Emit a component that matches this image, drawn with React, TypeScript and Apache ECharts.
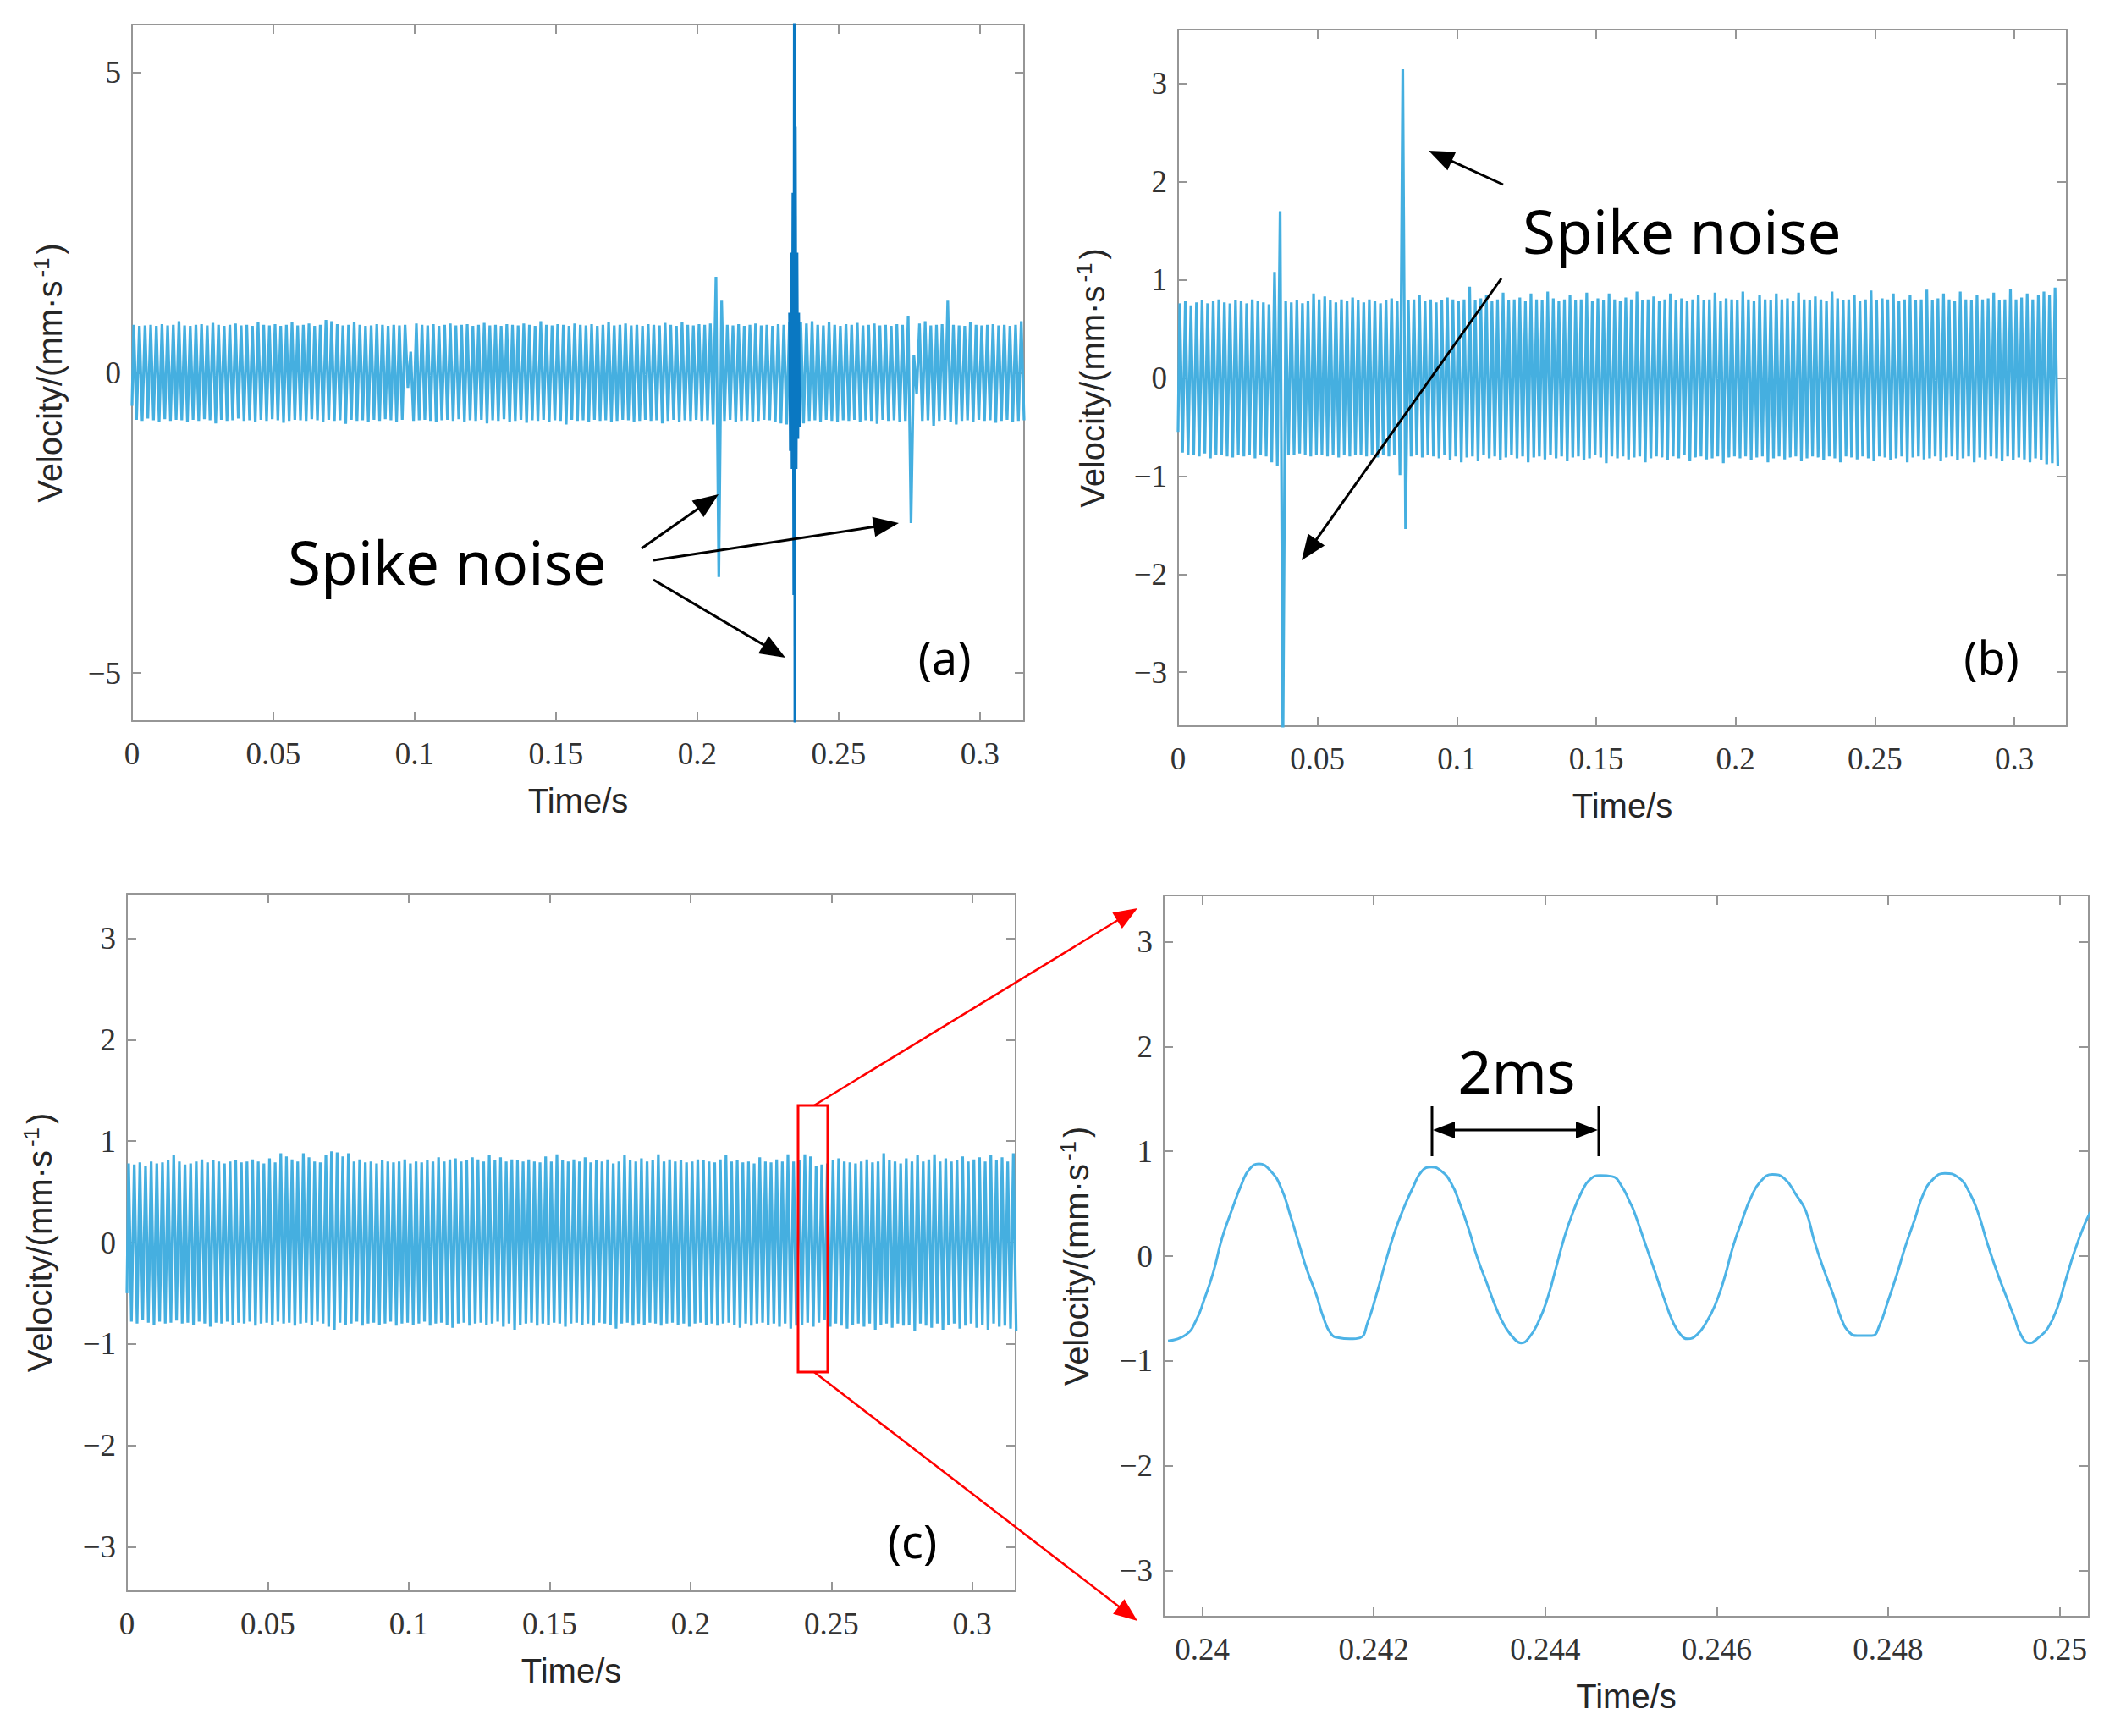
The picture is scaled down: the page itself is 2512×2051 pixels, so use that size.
import React, { useEffect, useRef } from "react";
import * as echarts from "echarts";

const W = 2512;
const H = 2051;

// ---------- data ----------
// dense records: one peak and one trough per 2 ms cycle
const SAMPLE_HALF = 0.001; // s between a peak and the next trough
const FIRST_PEAK_T = 0.0006; // s

const A_START = -0.55;
const A_PEAK = [
  0.80, 0.78, 0.79, 0.80, 0.78, 0.81, 0.79, 0.80, 0.86, 0.79,
  0.78, 0.80, 0.81, 0.79, 0.83, 0.80, 0.78, 0.80, 0.82, 0.79,
  0.80, 0.78, 0.85, 0.80, 0.79, 0.81, 0.78, 0.80, 0.84, 0.79,
  0.80, 0.82, 0.78, 0.80, 0.88, 0.86, 0.81, 0.79, 0.80, 0.84,
  0.80, 0.78, 0.79, 0.81, 0.80, 0.78, 0.80, 0.79, 0.80, 0.35,
  0.82, 0.80, 0.79, 0.81, 0.78, 0.80, 0.82, 0.79, 0.80, 0.81,
  0.78, 0.80, 0.83, 0.79, 0.80, 0.78, 0.81, 0.80, 0.79, 0.82,
  0.80, 0.78, 0.86, 0.80, 0.79, 0.81, 0.80, 0.78, 0.82, 0.80,
  0.79, 0.81, 0.78, 0.80, 0.84, 0.79, 0.80, 0.82, 0.79, 0.80,
  0.78, 0.81, 0.80, 0.79, 0.83, 0.80, 0.78, 0.85, 0.80, 0.79,
  0.81, 0.80, 0.82, 1.60, 1.20, 0.80, 0.79, 0.81, 0.78, 0.80,
  0.82, 0.79, 0.80, 0.78, 0.81, 0.80, 0.84, 0.82, 0.85, 0.82,
  0.86, 0.80, 0.79, 0.84, 0.80, 0.78, 0.81, 0.80, 0.83, 0.79,
  0.80, 0.82, 0.79, 0.80, 0.78, 0.81, 0.80, 0.95, 0.30, 0.82,
  0.86, 0.79, 0.80, 0.81, 1.20, 0.80, 0.79, 0.78, 0.85, 0.80,
  0.79, 0.80, 0.81, 0.79, 0.80, 0.78, 0.80, 0.86,
];
const A_TROUGH = [
  -0.78, -0.80, -0.76, -0.79, -0.81, -0.77, -0.80, -0.78, -0.79, -0.82,
  -0.78, -0.80, -0.77, -0.79, -0.84, -0.78, -0.80, -0.79, -0.76, -0.80,
  -0.79, -0.81, -0.78, -0.80, -0.77, -0.79, -0.83, -0.80, -0.78, -0.79,
  -0.80, -0.77, -0.79, -0.81, -0.78, -0.80, -0.79, -0.85, -0.78, -0.80,
  -0.79, -0.81, -0.78, -0.80, -0.77, -0.79, -0.82, -0.78, -0.25, -0.80,
  -0.79, -0.78, -0.80, -0.82, -0.79, -0.78, -0.80, -0.77, -0.81, -0.79,
  -0.80, -0.78, -0.84, -0.79, -0.80, -0.77, -0.81, -0.80, -0.78, -0.83,
  -0.79, -0.80, -0.78, -0.81, -0.79, -0.80, -0.86, -0.78, -0.80, -0.79,
  -0.81, -0.78, -0.80, -0.79, -0.82, -0.80, -0.78, -0.79, -0.81, -0.80,
  -0.78, -0.80, -0.79, -0.84, -0.80, -0.78, -0.81, -0.79, -0.80, -0.78,
  -0.80, -0.79, -0.86, -3.40, -0.80, -0.78, -0.81, -0.80, -0.79, -0.82,
  -0.80, -0.78, -0.79, -0.81, -0.84, -0.86, -0.88, -0.90, -0.84, -0.80,
  -0.79, -0.81, -0.78, -0.80, -0.82, -0.79, -0.80, -0.78, -0.81, -0.79,
  -0.80, -0.85, -0.78, -0.80, -0.79, -0.81, -0.80, -2.50, -0.35, -0.80,
  -0.79, -0.88, -0.80, -0.78, -0.82, -0.86, -0.80, -0.79, -0.81, -0.78,
  -0.80, -0.79, -0.83, -0.80, -0.78, -0.81, -0.80, -0.79,
];
// the large burst around 0.234 s in record (a)
const A_BURST_T = [
  0.2326, 0.2329, 0.2332, 0.2335, 0.2338, 0.2341, 0.2343,
  0.2345, 0.2347, 0.235, 0.2353, 0.2356, 0.2359, 0.2362,
];
const A_BURST_V = [
  1.0, -1.3, 2.0, -1.6, 3.0, -3.7, 6.5,
  -6.5, 4.1, -1.6, 2.0, -1.1, 1.0, -0.9,
];

const B_START = -0.55;
const B_PEAK = [
  0.76, 0.78, 0.74, 0.77, 0.79, 0.76, 0.78, 0.80, 0.77, 0.76,
  0.79, 0.78, 0.76, 0.80, 0.78, 0.77, 0.75, 1.08, 1.70, 0.78,
  0.77, 0.79, 0.76, 0.78, 0.86, 0.80, 0.83, 0.79, 0.77, 0.80,
  0.78, 0.82, 0.79, 0.77, 0.80, 0.78, 0.76, 0.79, 0.81, 0.78,
  3.15, 0.79, 0.80, 0.84, 0.78, 0.80, 0.77, 0.79, 0.82, 0.80,
  0.78, 0.80, 0.93, 0.79, 0.81, 0.85, 0.78, 0.80, 0.87, 0.79,
  0.80, 0.82, 0.78, 0.86, 0.80, 0.79, 0.88, 0.81, 0.78, 0.80,
  0.84, 0.79, 0.80, 0.87, 0.78, 0.81, 0.79, 0.86, 0.80, 0.78,
  0.82, 0.80, 0.88, 0.79, 0.80, 0.83, 0.78, 0.80, 0.86, 0.79,
  0.81, 0.78, 0.80, 0.85, 0.79, 0.80, 0.87, 0.78, 0.81, 0.80,
  0.79, 0.88, 0.80, 0.78, 0.84, 0.80, 0.79, 0.86, 0.80, 0.81,
  0.78, 0.87, 0.80, 0.79, 0.83, 0.80, 0.78, 0.88, 0.81, 0.79,
  0.80, 0.85, 0.78, 0.80, 0.89, 0.79, 0.81, 0.80, 0.86, 0.78,
  0.80, 0.84, 0.79, 0.80, 0.90, 0.79, 0.81, 0.86, 0.80, 0.78,
  0.88, 0.80, 0.79, 0.85, 0.80, 0.81, 0.87, 0.79, 0.80, 0.91,
  0.80, 0.82, 0.86, 0.80, 0.84, 0.88, 0.85, 0.92,
];
const B_TROUGH = [
  -0.76, -0.79, -0.78, -0.80, -0.77, -0.82, -0.79, -0.78, -0.80, -0.81,
  -0.78, -0.80, -0.79, -0.82, -0.78, -0.80, -0.86, -0.90, -3.80, -0.78,
  -0.79, -0.77, -0.78, -0.80, -0.79, -0.78, -0.80, -0.79, -0.81, -0.78,
  -0.80, -0.79, -0.78, -0.80, -0.79, -0.81, -0.78, -0.80, -0.79, -0.99,
  -1.54, -0.80, -0.79, -0.81, -0.78, -0.80, -0.82, -0.79, -0.84, -0.80,
  -0.86, -0.81, -0.80, -0.85, -0.79, -0.82, -0.80, -0.84, -0.81, -0.79,
  -0.82, -0.80, -0.86, -0.81, -0.80, -0.83, -0.79, -0.82, -0.80, -0.85,
  -0.81, -0.80, -0.84, -0.82, -0.79, -0.81, -0.87, -0.80, -0.82, -0.80,
  -0.83, -0.81, -0.80, -0.86, -0.82, -0.80, -0.81, -0.84, -0.80, -0.82,
  -0.79, -0.85, -0.81, -0.80, -0.83, -0.82, -0.80, -0.87, -0.81, -0.80,
  -0.82, -0.80, -0.84, -0.81, -0.80, -0.86, -0.82, -0.80, -0.83, -0.81,
  -0.80, -0.85, -0.82, -0.80, -0.81, -0.84, -0.80, -0.82, -0.86, -0.80,
  -0.81, -0.83, -0.80, -0.82, -0.85, -0.80, -0.81, -0.84, -0.82, -0.80,
  -0.86, -0.81, -0.80, -0.83, -0.82, -0.80, -0.85, -0.81, -0.80, -0.84,
  -0.82, -0.80, -0.86, -0.81, -0.83, -0.80, -0.82, -0.85, -0.80, -0.84,
  -0.81, -0.83, -0.86, -0.82, -0.84, -0.88, -0.87, -0.90,
];

const C_START = -0.5;
const C_PEAK = [
  0.78, 0.77, 0.79, 0.76, 0.80, 0.78, 0.79, 0.81, 0.86, 0.80,
  0.77, 0.78, 0.80, 0.82, 0.79, 0.81, 0.80, 0.78, 0.80, 0.81,
  0.79, 0.80, 0.82, 0.80, 0.78, 0.83, 0.79, 0.88, 0.85, 0.82,
  0.80, 0.88, 0.84, 0.80, 0.79, 0.86, 0.90, 0.89, 0.85, 0.88,
  0.80, 0.82, 0.79, 0.80, 0.78, 0.81, 0.80, 0.79, 0.80, 0.82,
  0.78, 0.80, 0.79, 0.81, 0.80, 0.84, 0.80, 0.82, 0.83, 0.80,
  0.81, 0.84, 0.82, 0.80, 0.86, 0.81, 0.84, 0.80, 0.82, 0.81,
  0.80, 0.82, 0.80, 0.79, 0.85, 0.80, 0.87, 0.81, 0.80, 0.82,
  0.80, 0.84, 0.79, 0.81, 0.80, 0.82, 0.78, 0.80, 0.86, 0.81,
  0.80, 0.83, 0.80, 0.81, 0.87, 0.80, 0.82, 0.80, 0.81, 0.79,
  0.80, 0.82, 0.81, 0.80, 0.79, 0.82, 0.86, 0.80, 0.81, 0.79,
  0.80, 0.78, 0.84, 0.80, 0.79, 0.82, 0.80, 0.87, 0.80, 0.81,
  0.87, 0.85, 0.76, 0.77, 0.78, 0.81, 0.83, 0.80, 0.79, 0.78,
  0.80, 0.82, 0.79, 0.80, 0.88, 0.81, 0.80, 0.78, 0.83, 0.80,
  0.86, 0.80, 0.82, 0.87, 0.80, 0.83, 0.80, 0.81, 0.85, 0.80,
  0.82, 0.84, 0.80, 0.86, 0.81, 0.84, 0.80, 0.88,
];
const C_TROUGH = [
  -0.78, -0.80, -0.76, -0.79, -0.81, -0.78, -0.80, -0.79, -0.77, -0.80,
  -0.79, -0.81, -0.78, -0.80, -0.83, -0.79, -0.80, -0.78, -0.81, -0.79,
  -0.80, -0.78, -0.82, -0.80, -0.79, -0.81, -0.78, -0.80, -0.79, -0.82,
  -0.80, -0.79, -0.81, -0.78, -0.80, -0.83, -0.86, -0.79, -0.81, -0.80,
  -0.78, -0.82, -0.80, -0.79, -0.81, -0.80, -0.78, -0.82, -0.80, -0.79,
  -0.81, -0.80, -0.78, -0.82, -0.80, -0.79, -0.81, -0.84, -0.80, -0.79,
  -0.82, -0.80, -0.79, -0.81, -0.80, -0.78, -0.83, -0.80, -0.86, -0.81,
  -0.80, -0.79, -0.82, -0.80, -0.81, -0.79, -0.80, -0.83, -0.80, -0.79,
  -0.81, -0.80, -0.82, -0.79, -0.80, -0.81, -0.85, -0.80, -0.79, -0.82,
  -0.80, -0.81, -0.79, -0.80, -0.82, -0.80, -0.79, -0.81, -0.80, -0.83,
  -0.80, -0.79, -0.81, -0.80, -0.82, -0.80, -0.79, -0.81, -0.84, -0.80,
  -0.82, -0.80, -0.79, -0.81, -0.80, -0.83, -0.80, -0.85, -0.82, -0.81,
  -0.79, -0.83, -0.79, -0.76, -0.83, -0.80, -0.82, -0.85, -0.81, -0.80,
  -0.83, -0.80, -0.86, -0.81, -0.80, -0.84, -0.80, -0.82, -0.81, -0.87,
  -0.80, -0.82, -0.84, -0.80, -0.86, -0.81, -0.80, -0.85, -0.82, -0.80,
  -0.84, -0.81, -0.86, -0.80, -0.83, -0.82, -0.85, -0.87,
];

// zoomed record (d)
const D_TIME = [
  0.2396, 0.23981, 0.23993, 0.24002, 0.24013, 0.24023, 0.24034, 0.24046, 0.24055, 0.24066,
  0.2408, 0.24092, 0.24103, 0.24113, 0.24122, 0.24133, 0.24141, 0.2415, 0.24159, 0.24172,
  0.24184, 0.24193, 0.24203, 0.24214, 0.24224, 0.24235, 0.24246, 0.24256, 0.24267, 0.24279,
  0.2429, 0.243, 0.24311, 0.24321, 0.24332, 0.24343, 0.24353, 0.24364, 0.24372, 0.24381,
  0.24392, 0.24402, 0.24413, 0.24422, 0.24432, 0.24443, 0.24452, 0.24464, 0.24478, 0.24489,
  0.24499, 0.24503, 0.24517, 0.24528, 0.24538, 0.24549, 0.24558, 0.24566, 0.24577, 0.24588,
  0.24598, 0.24609, 0.24619, 0.2463, 0.2464, 0.24651, 0.24665, 0.24679, 0.24693, 0.24704,
  0.24714, 0.24725, 0.24736, 0.24746, 0.24755, 0.24764, 0.24781, 0.2479, 0.24799, 0.2481,
  0.2482, 0.24831, 0.24841, 0.24852, 0.24866, 0.24882, 0.24894, 0.24905, 0.24915, 0.24926,
  0.24937, 0.24947, 0.24956, 0.24965, 0.24975, 0.24986, 0.24997, 0.25007, 0.25018, 0.25029,
  0.25036,
];
const D_VEL = [
  -0.81, -0.75, -0.61, -0.42, -0.15, 0.17, 0.43, 0.69, 0.83, 0.88,
  0.81, 0.65, 0.38, 0.11, -0.13, -0.37, -0.58, -0.74, -0.78, -0.79,
  -0.78, -0.63, -0.37, -0.05, 0.22, 0.46, 0.66, 0.81, 0.85, 0.81,
  0.7, 0.51, 0.25, -0.02, -0.26, -0.5, -0.67, -0.79, -0.83, -0.78,
  -0.63, -0.42, -0.1, 0.17, 0.41, 0.62, 0.73, 0.77, 0.76, 0.67,
  0.51, 0.44, 0.11, -0.15, -0.39, -0.63, -0.75, -0.79, -0.75, -0.63,
  -0.47, -0.21, 0.09, 0.35, 0.56, 0.71, 0.78, 0.74, 0.58, 0.43,
  0.14, -0.13, -0.37, -0.61, -0.73, -0.76, -0.76, -0.66, -0.45, -0.18,
  0.09, 0.35, 0.59, 0.73, 0.79, 0.75, 0.62, 0.41, 0.14, -0.13,
  -0.37, -0.58, -0.77, -0.83, -0.78, -0.69, -0.5, -0.23, 0.06, 0.3,
  0.42,
];

// axes
const X_RANGE_A = [0, 0.3156];
const X_RANGE_B = [0, 0.3188];
const X_RANGE_C = [0, 0.3154];
const X_RANGE_D = [0.23955, 0.25034];
const Y_RANGE_A = [-5.8, 5.8];
const Y_RANGE_B = [-3.55, 3.55];
const Y_RANGE_C = [-3.44, 3.44];
const Y_RANGE_D = [-3.44, 3.44];
const X_TICKS_FULL = [0, 0.05, 0.1, 0.15, 0.2, 0.25, 0.3];
const X_TICKS_ZOOM = [0.24, 0.242, 0.244, 0.246, 0.248, 0.25];
const Y_TICKS_A = [-5, 0, 5];
const Y_TICKS_3 = [-3, -2, -1, 0, 1, 2, 3];

// ---------- styles ----------
const AX = "#969696";
const LBL = "#333333";
const SERIF = "'Liberation Serif', 'DejaVu Serif', serif";
const SANS = "'Liberation Sans', Arial, sans-serif";
const NOTE = "'Noto Sans', 'Open Sans', sans-serif";
const DENSE = "#45AFE0";
const BURST = "#0A78C2";
const THIN = "#4DB3E6";

function zigzag(start: number, peaks: number[], troughs: number[]) {
  const pts: number[][] = [[0, start]];
  for (let k = 0; k < peaks.length; k++) {
    pts.push([FIRST_PEAK_T + 2 * k * SAMPLE_HALF, peaks[k]]);
    if (k < troughs.length) pts.push([FIRST_PEAK_T + (2 * k + 1) * SAMPLE_HALF, troughs[k]]);
  }
  return pts;
}

const fmt = (v: number) => (v < 0 ? "\u2212" + String(-v) : String(v));

const VEL_NAME = "{n|Velocity/(mm\u00b7s}{s|-1}{n|)}";

function xAxes(gi: number, range: number[], ticks: number[]) {
  const common = {
    type: "value",
    gridIndex: gi,
    min: range[0],
    max: range[1],
    splitLine: { show: false },
    axisLine: { show: true, onZero: false, lineStyle: { color: AX, width: 2 } },
    axisTick: { show: true, inside: true, length: 11, customValues: ticks, lineStyle: { color: AX, width: 2 } },
  };
  return [
    {
      ...common,
      position: "bottom",
      axisLabel: {
        show: true,
        customValues: ticks,
        formatter: fmt,
        margin: 20,
        fontFamily: SERIF,
        fontSize: 37,
        color: LBL,
      },
      name: "Time/s",
      nameLocation: "middle",
      nameGap: 74,
      nameTextStyle: { fontFamily: SANS, fontSize: 40, color: "#262626" },
    },
    { ...common, position: "top", axisLabel: { show: false } },
  ];
}

function yAxes(gi: number, range: number[], ticks: number[], gap: number) {
  const common = {
    type: "value",
    gridIndex: gi,
    min: range[0],
    max: range[1],
    splitLine: { show: false },
    axisLine: { show: true, onZero: false, lineStyle: { color: AX, width: 2 } },
    axisTick: { show: true, inside: true, length: 11, customValues: ticks, lineStyle: { color: AX, width: 2 } },
  };
  return [
    {
      ...common,
      position: "left",
      axisLabel: {
        show: true,
        customValues: ticks,
        formatter: fmt,
        margin: 13,
        fontFamily: SERIF,
        fontSize: 37,
        color: LBL,
      },
      name: VEL_NAME,
      nameLocation: "middle",
      nameGap: gap,
      nameTextStyle: {
        fontFamily: SANS,
        fontSize: 40,
        color: "#262626",
        rich: {
          n: { fontFamily: SANS, fontSize: 40, lineHeight: 46, color: "#262626" },
          s: {
            fontFamily: SANS,
            fontSize: 26,
            lineHeight: 26,
            color: "#262626",
            verticalAlign: "top",
            padding: [0, 4, 0, 4],
          },
        },
      },
    },
    { ...common, position: "right", axisLabel: { show: false } },
  ];
}

function arrow(x1: number, y1: number, x2: number, y2: number, color: string, lw: number, hl: number, hw: number) {
  const dx = x2 - x1;
  const dy = y2 - y1;
  const L = Math.hypot(dx, dy);
  const ux = dx / L;
  const uy = dy / L;
  const bx = x2 - ux * hl;
  const by = y2 - uy * hl;
  const px = -uy;
  const py = ux;
  return [
    { type: "line", z: 100, shape: { x1, y1, x2: bx + ux * 3, y2: by + uy * 3 }, style: { stroke: color, lineWidth: lw } },
    {
      type: "polygon",
      z: 100,
      shape: {
        points: [
          [x2, y2],
          [bx + (px * hw) / 2, by + (py * hw) / 2],
          [bx - (px * hw) / 2, by - (py * hw) / 2],
        ],
      },
      style: { fill: color },
    },
  ];
}

function label(text: string, x: number, y: number, size: number, align = "center") {
  return {
    type: "text",
    z: 100,
    x,
    y,
    style: { text, fontFamily: NOTE, fontSize: size, fill: "#000", align, verticalAlign: "middle" },
  };
}

export default function App() {
  const ref = useRef<HTMLDivElement>(null);
  useEffect(() => {
    if (!ref.current) return;
    const chart = echarts.init(ref.current, null, { renderer: "svg", width: W, height: H });
    const grids = [
      { left: 156, top: 29, width: 1054, height: 823 },
      { left: 1392, top: 35, width: 1050, height: 823 },
      { left: 150, top: 1056, width: 1050, height: 824 },
      { left: 1375, top: 1058, width: 1093, height: 852 },
    ];
    const lineSeries = (gi: number, data: number[][], color: string, width: number, smooth = false) => ({
      type: "line",
      xAxisIndex: gi * 2,
      yAxisIndex: gi * 2,
      data,
      symbol: "none",
      showSymbol: false,
      smooth,
      clip: true,
      silent: true,
      lineStyle: { color, width },
    });
    const dData = D_TIME.map((t, i) => [t, D_VEL[i]]);
    const burst = A_BURST_T.map((t, i) => [t, A_BURST_V[i]]);
    const graphic: any[] = [
      ...arrow(758, 648, 849, 584, "#000", 3, 30, 24),
      ...arrow(772, 662, 1062, 618, "#000", 3, 30, 24),
      ...arrow(772, 685, 928, 777, "#000", 3, 30, 24),
      ...arrow(1776, 218, 1688, 178, "#000", 3, 30, 24),
      ...arrow(1774, 329, 1538, 662, "#000", 3, 30, 24),
      {
        type: "rect",
        z: 100,
        shape: { x: 943, y: 1306, width: 35, height: 315 },
        style: { fill: "none", stroke: "#ff0000", lineWidth: 3 },
      },
      ...arrow(962, 1306, 1344, 1073, "#ff0000", 2.5, 28, 22),
      ...arrow(962, 1621, 1344, 1915, "#ff0000", 2.5, 28, 22),
      { type: "line", z: 100, shape: { x1: 1692, y1: 1307, x2: 1692, y2: 1366 }, style: { stroke: "#000", lineWidth: 3 } },
      { type: "line", z: 100, shape: { x1: 1889, y1: 1307, x2: 1889, y2: 1366 }, style: { stroke: "#000", lineWidth: 3 } },
      ...arrow(1790, 1335, 1693, 1335, "#000", 3, 26, 20),
      ...arrow(1790, 1335, 1888, 1335, "#000", 3, 26, 20),
      label("Spike noise", 340, 663, 71, "left"),
      label("Spike noise", 1799, 272, 71, "left"),
      label("(a)", 1116, 776, 54),
      label("(b)", 2353, 776, 54),
      label("(c)", 1078, 1820, 54),
      label("2ms", 1792, 1265, 70),
    ];
    chart.setOption({
      animation: false,
      backgroundColor: "#ffffff",
      grid: grids,
      xAxis: [
        ...xAxes(0, X_RANGE_A, X_TICKS_FULL),
        ...xAxes(1, X_RANGE_B, X_TICKS_FULL),
        ...xAxes(2, X_RANGE_C, X_TICKS_FULL),
        ...xAxes(3, X_RANGE_D, X_TICKS_ZOOM),
      ],
      yAxis: [
        ...yAxes(0, Y_RANGE_A, Y_TICKS_A, 74),
        ...yAxes(1, Y_RANGE_B, Y_TICKS_3, 78),
        ...yAxes(2, Y_RANGE_C, Y_TICKS_3, 80),
        ...yAxes(3, Y_RANGE_D, Y_TICKS_3, 80),
      ],
      series: [
        lineSeries(0, zigzag(A_START, A_PEAK, A_TROUGH), DENSE, 3.2),
        lineSeries(0, burst, BURST, 3),
        lineSeries(1, zigzag(B_START, B_PEAK, B_TROUGH), DENSE, 3.2),
        lineSeries(2, zigzag(C_START, C_PEAK, C_TROUGH), DENSE, 3.2),
        lineSeries(3, dData, THIN, 3, true),
      ],
      graphic,
    });
    return () => chart.dispose();
  }, []);
  return (
    <div
      ref={ref}
      style={{ position: "absolute", left: 0, top: 0, width: W, height: H, background: "#fff" }}
    />
  );
}
